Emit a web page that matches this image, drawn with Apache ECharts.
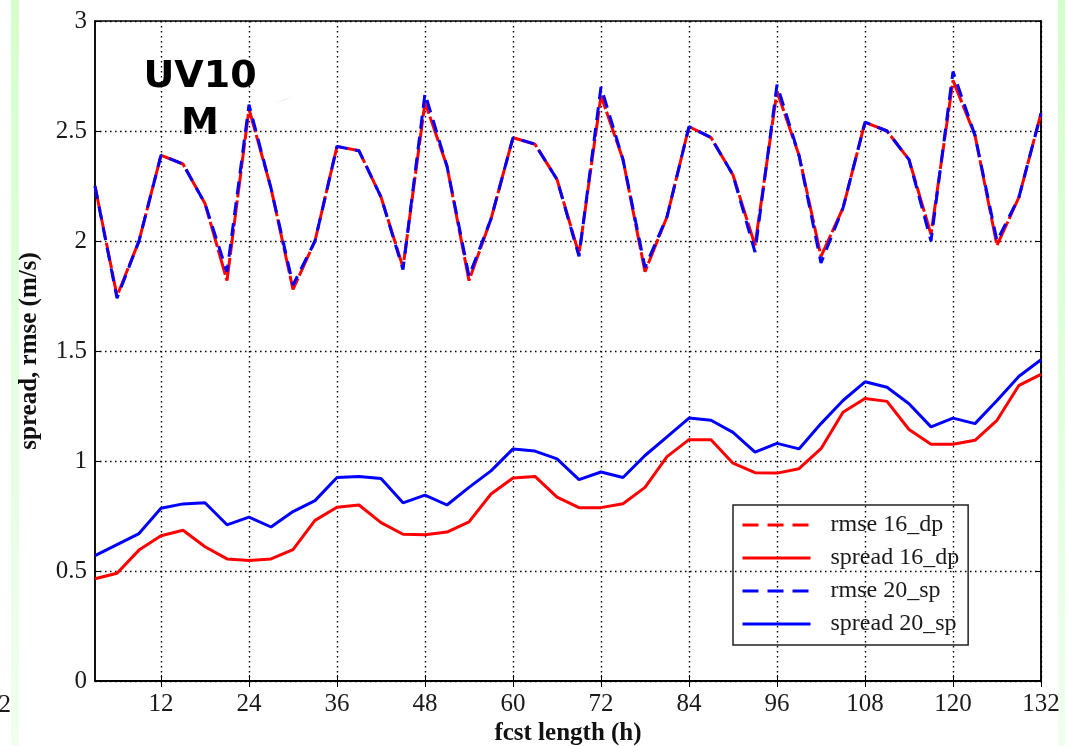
<!DOCTYPE html>
<html lang="en">
<head>
  <meta charset="UTF-8">
  <title>UV10M spread / rmse</title>
  <style>html, body { margin: 0; padding: 0; background: #fff; }</style>
</head>
<body>
<div id="main" style="width: 1065px;height: 746px"></div>
<script type="text/javascript" src="https://cdn.jsdelivr.net/npm/echarts@6/dist/echarts.min.js"></script>
<script>
// forecast hours (x) and tick labels
var hours = [3, 6, 9, 12, 15, 18, 21, 24, 27, 30, 33, 36, 39, 42, 45, 48, 51, 54, 57, 60, 63, 66,
  69, 72, 75, 78, 81, 84, 87, 90, 93, 96, 99, 102, 105, 108, 111, 114, 117, 120, 123, 126, 129, 132];
var xTicks = [12, 24, 36, 48, 60, 72, 84, 96, 108, 120, 132];

// values (m/s)
var rmse16 = [2.25, 1.75, 2.00, 2.39, 2.35, 2.17, 1.82, 2.60, 2.24, 1.78, 2.00, 2.43, 2.41, 2.20, 1.88,
  2.63, 2.34, 1.82, 2.10, 2.47, 2.44, 2.28, 1.94, 2.66, 2.37, 1.86, 2.11, 2.52, 2.47, 2.30, 1.98, 2.68,
  2.39, 1.93, 2.15, 2.54, 2.50, 2.37, 2.03, 2.73, 2.48, 1.98, 2.20, 2.58];
var spread16 = [0.465, 0.49, 0.595, 0.66, 0.685, 0.61, 0.555, 0.548, 0.555, 0.597, 0.73, 0.79, 0.80,
  0.72, 0.667, 0.665, 0.677, 0.723, 0.85, 0.923, 0.93, 0.836, 0.788, 0.788, 0.806, 0.88, 1.02, 1.097,
  1.097, 0.99, 0.947, 0.945, 0.965, 1.056, 1.222, 1.284, 1.271, 1.143, 1.076, 1.076, 1.094, 1.185,
  1.344, 1.394];
var rmse20 = [2.25, 1.74, 2.00, 2.39, 2.35, 2.17, 1.86, 2.62, 2.24, 1.80, 2.00, 2.43, 2.41, 2.20, 1.87,
  2.67, 2.34, 1.84, 2.10, 2.47, 2.44, 2.28, 1.93, 2.70, 2.37, 1.88, 2.11, 2.52, 2.47, 2.30, 1.95, 2.71,
  2.39, 1.90, 2.15, 2.54, 2.50, 2.37, 2.00, 2.77, 2.48, 2.00, 2.20, 2.58];
var spread20 = [0.57, 0.62, 0.67, 0.785, 0.805, 0.81, 0.71, 0.745, 0.70, 0.77, 0.82, 0.925, 0.93, 0.92,
  0.81, 0.845, 0.80, 0.88, 0.955, 1.055, 1.045, 1.01, 0.915, 0.95, 0.925, 1.025, 1.11, 1.195, 1.185,
  1.13, 1.04, 1.08, 1.055, 1.17, 1.275, 1.36, 1.335, 1.26, 1.155, 1.195, 1.17, 1.275, 1.385, 1.46];

function pairs(vals) {
  return hours.map(function (h, i) { return [h, vals[i]]; });
}

var serif = '"Liberation Serif", "Times New Roman", serif';
var dotted = { type: [1.5, 3.5], color: '#000', width: 1.4 };

function line(name, vals, color, dash, offset) {
  return {
    name: name,
    type: 'line',
    data: pairs(vals),
    symbol: 'none',
    showSymbol: false,
    animation: false,
    itemStyle: { color: color },
    lineStyle: { color: color, width: 3, type: dash || 'solid', dashOffset: offset || 0 }
  };
}

var legendDash = [16, 9];

var option = {
  animation: false,
  grid: { left: 95, right: 24, top: 21, bottom: 65, show: true, borderColor: '#000', borderWidth: 1.5 },
  xAxis: [{
    type: 'value', min: 3, max: 132,
    axisLine: { lineStyle: { color: '#000', width: 1.5 } },
    axisTick: { inside: true, length: 6, customValues: xTicks, lineStyle: { color: '#000' } },
    axisLabel: { customValues: xTicks, color: '#1a1a1a', fontFamily: serif, fontSize: 25, margin: 11 },
    splitLine: { show: true, lineStyle: dotted }
  }, {
    type: 'value', min: 3, max: 132, position: 'top',
    axisLine: { lineStyle: { color: '#000', width: 1.5 } },
    axisTick: { inside: true, length: 6, customValues: xTicks, lineStyle: { color: '#000' } },
    axisLabel: { show: false },
    splitLine: { show: false }
  }],
  yAxis: [{
    type: 'value', min: 0, max: 3, interval: 0.5,
    axisLine: { show: true, lineStyle: { color: '#000', width: 1.5 } },
    axisTick: { show: true, inside: true, length: 6, lineStyle: { color: '#000' } },
    axisLabel: { color: '#1a1a1a', fontFamily: serif, fontSize: 25, margin: 8 },
    splitLine: { show: true, lineStyle: dotted }
  }, {
    type: 'value', min: 0, max: 3, interval: 0.5, position: 'right',
    axisLine: { show: true, lineStyle: { color: '#000', width: 1.5 } },
    axisTick: { show: true, inside: true, length: 6, lineStyle: { color: '#000' } },
    axisLabel: { show: false },
    splitLine: { show: false }
  }],
  legend: {
    orient: 'vertical', left: 733, top: 505,
    padding: [7, 9, 8, 8],
    itemWidth: 68, itemHeight: 14, itemGap: 7,
    borderColor: '#222', borderWidth: 1.5,
    selectedMode: false,
    itemStyle: { opacity: 0 },
    textStyle: { fontFamily: serif, fontSize: 24, color: '#1a1a1a', lineHeight: 26, padding: [0, 0, 0, 15] },
    data: [
      { name: 'rmse 16_dp', lineStyle: { type: legendDash, width: 3, dashOffset: 0 } },
      { name: 'spread 16_dp', lineStyle: { type: 'solid', width: 3 } },
      { name: 'rmse 20_sp', lineStyle: { type: legendDash, width: 3, dashOffset: 0 } },
      { name: 'spread 20_sp', lineStyle: { type: 'solid', width: 3 } }
    ]
  },
  series: [
    line('rmse 16_dp', rmse16, '#ff0000', [26, 3], 0),
    line('spread 16_dp', spread16, '#ff0000'),
    line('rmse 20_sp', rmse20, '#0000ff', [13, 8], 0),
    line('spread 20_sp', spread20, '#0000ff')
  ],
  graphic: [
    // light green slide edges
    { type: 'rect', shape: { x: 11, y: 0, width: 8, height: 746 }, silent: true, z: -1,
      style: { fill: new echarts.graphic.LinearGradient(0, 0, 0, 1, [{ offset: 0, color: '#d4ffcc' }, { offset: 1, color: '#f0fff0' }]) } },
    { type: 'rect', shape: { x: 1058, y: 0, width: 7, height: 746 }, silent: true, z: -1,
      style: { fill: new echarts.graphic.LinearGradient(0, 0, 0, 1, [{ offset: 0, color: '#d4ffcc' }, { offset: 1, color: '#f0fff0' }]) } },
    // clipped label of the neighbouring chart
    { type: 'text', x: 11, y: 705, style: { text: '2', font: '25px ' + serif, fill: '#1a1a1a', textAlign: 'right', textVerticalAlign: 'middle' } },
    // axis titles
    { type: 'text', x: 568, y: 734, style: { text: 'fcst length (h)', font: 'bold 25px ' + serif, fill: '#111', textAlign: 'center', textVerticalAlign: 'middle' } },
    { type: 'text', x: 30, y: 351, rotation: Math.PI / 2, style: { text: 'spread, rmse (m/s)', font: 'bold 25px ' + serif, fill: '#111', textAlign: 'center', textVerticalAlign: 'middle' } },
    // annotation
    { type: 'text', x: 200, y: 101, z: 10, style: { text: 'UV10\nM', font: 'bold 38px "DejaVu Sans", sans-serif', lineHeight: 47, fill: '#000', textAlign: 'center', textVerticalAlign: 'middle' } },
    { type: 'polygon', shape: { points: [[275, 103], [294, 96], [284, 100]] }, style: { fill: '#b8b8b8' } }
  ]
};

var myChart = echarts.init(document.getElementById('main'));
myChart.setOption(option);
</script>
</body>
</html>
